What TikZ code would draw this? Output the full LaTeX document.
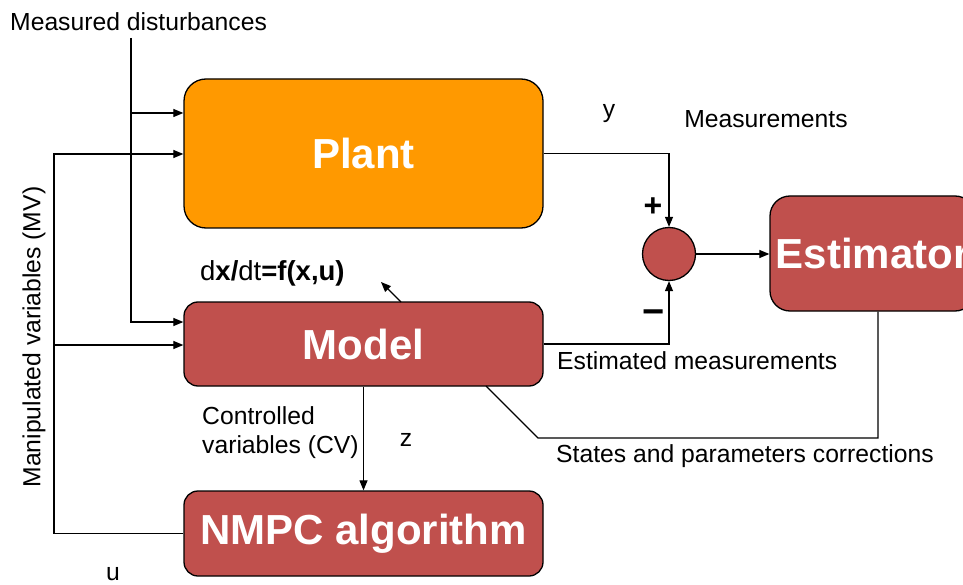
\documentclass[tikz,border=0pt]{standalone}
\usepackage{fontspec}
\setmainfont{Liberation Sans}
\usetikzlibrary{arrows.meta}
\definecolor{plantor}{HTML}{FF9900}
\definecolor{boxred}{HTML}{C0504D}
\begin{document}
\begin{tikzpicture}[x=1pt,y=-1pt,
 box/.style={draw=black, line width=1.3pt, rounded corners=14pt, inner sep=0pt, font=\fontsize{42}{42}\selectfont\bfseries, text=white},
 lbl/.style={font=\fontsize{24.7}{29}\selectfont, inner sep=0pt},
 arr/.style={-{Triangle[length=10pt,width=8pt]}, line width=1.2pt},
 ln/.style={line width=1.2pt}]
\clip (0,0) rectangle (963,585);
\fill[white] (0,0) rectangle (963,585);
% boxes
\node[box, rounded corners=22pt, fill=plantor, minimum width=359pt, minimum height=149pt] (plant) at (363.5,153.5) {Plant};
\node[box, fill=boxred, minimum width=359pt, minimum height=84pt] (model) at (363.5,344) {Model};
\node[box, fill=boxred, minimum width=359pt, minimum height=85pt] (nmpc) at (363.5,533.5) {NMPC algorithm};
\node[box, rounded corners=20pt, fill=boxred, minimum width=205pt, minimum height=115pt] (est) at (872.5,253.5) {Estimator};
\node[circle, draw=black, line width=1.3pt, fill=boxred, minimum size=53pt, inner sep=0pt] (sum) at (669,254) {};
% coordinates
\coordinate (mvtop) at (54,154);
\coordinate (mvmid) at (54,345);
\coordinate (dtop) at (131,38);
\coordinate (dplant) at (131,113);
\coordinate (dmodel) at (131,322);
\coordinate (c1) at (878,438);
\coordinate (c2) at (538,438);
\coordinate (mb) at (486,386);
\coordinate (mtop) at (401,302);
\coordinate (dxtip) at (381,282);
% connectors
\draw[arr] (plant.east) -| (sum.north);
\draw[arr] (model.east) -| (sum.south);
\draw[arr] (sum.east) -- (sum.east -| est.west);
\draw[ln] (est.south -| c1) -- (c1) -- (c2) -- (mb);
\draw[arr] (model.south) -- (model.south |- nmpc.north);
\draw[arr] (nmpc.west) -- (nmpc.west -| mvtop) -- (mvtop) -- (mvtop -| plant.west);
\draw[arr] (mvmid) -- (mvmid -| model.west);
\draw[arr] (dtop) -- (dmodel) -- (dmodel -| model.west);
\draw[arr] (dplant) -- (dplant -| plant.west);
\draw[arr] (mtop) -- (dxtip);
% labels
\node[lbl, anchor=west] (lmd) at (10,22) {Measured disturbances};
\node[lbl, rotate=90] (lmv) at (34,337) {Manipulated variables (MV)};
\node[inner sep=0pt, font=\fontsize{27.5}{30}\selectfont, anchor=west] (ldx) at (200,273) {d\textbf{x/}dt\textbf{=f(x,u)}};
\node[lbl] (ly) at (609,114) {y};
\node[lbl] (lmeas) at (766,119) {Measurements};
\node[lbl, anchor=west] (lest) at (557,361) {Estimated measurements};
\node[lbl, anchor=west] (lsp) at (556,456) {States and parameters corrections};
\node[lbl, anchor=west, align=left] (lcv) at (202,433) {Controlled\\variables (CV)};
\node[lbl] (lz) at (406,440) {z};
\node[lbl] (lu) at (113,574) {u};
\node[inner sep=0pt, font=\fontsize{32}{32}\selectfont\bfseries] (lplus) at (653,207) {+};
\node[inner sep=0pt, font=\fontsize{38}{38}\selectfont\bfseries] (lminus) at (654,317) {−};
\end{tikzpicture}
\end{document}
